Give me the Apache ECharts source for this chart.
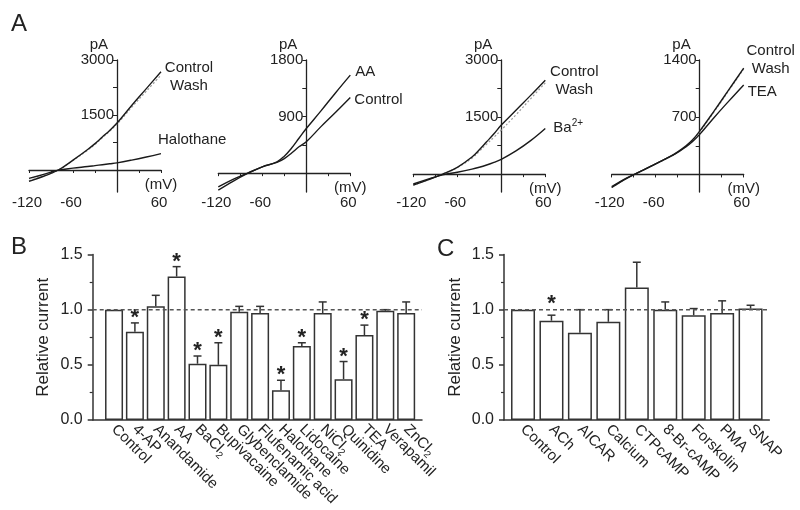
<!DOCTYPE html>
<html>
<head>
<meta charset="utf-8">
<script src="https://cdn.jsdelivr.net/npm/echarts@6/dist/echarts.min.js"></script>
<style>
html, body { margin: 0; padding: 0; background: #fff; }
#container { width: 800px; height: 510px; }
</style>
</head>
<body>
<div id="container"></div>
<script>
var FONT = '"Liberation Sans", Arial, sans-serif';
var INK = '#222';

// Panel A: I-V traces (mV -> pA)
var voltages = [-120, -100, -80, -60, -40, -30, -20, -10, 0, 20, 40, 60];

var halControl = [-310, -170, 0, 270, 560, 720, 900, 1080, 1280, 1760, 2220, 2680];
var halWash    = [-290, -160, 0, 260, 540, 700, 880, 1060, 1250, 1710, 2150, 2590];
var halothane  = [-230, -120, -5, 50, 95, 120, 145, 170, 195, 270, 355, 448];

var aaControl  = [-220, -100, 0, 100, 170, 230, 320, 420, 500, 740, 970, 1205];
var aaTrace    = [-270, -130, -5, 100, 180, 270, 400, 555, 710, 990, 1280, 1560];

var baControl  = [-290, -150, 0, 180, 450, 640, 850, 1060, 1290, 1680, 2070, 2470];
var baWash     = [-290, -150, 0, 170, 420, 600, 790, 970, 1160, 1560, 1980, 2400];
var baTrace    = [-260, -130, -20, 50, 130, 180, 240, 310, 390, 610, 880, 1200];

var teaControl = [-160, -50, 40, 130, 220, 275, 340, 420, 530, 780, 1040, 1300];
var teaWash    = [-160, -50, 40, 130, 215, 270, 335, 410, 520, 770, 1030, 1290];
var teaTrace   = [-150, -45, 40, 130, 220, 270, 330, 400, 490, 700, 900, 1095];

// Panel B
var bNames = ['Control', '4-AP', 'Anandamide', 'AA', 'BaCl{s|2}', 'Bupivacaine', 'Glybenclamide',
  'Flufenamic acid', 'Halothane', 'Lidocaine', 'NiCl{s|2}', 'Quinidine', 'TEA', 'Verapamil', 'ZnCl{s|2}'];
var bMeans = [1.00, 0.80, 1.03, 1.30, 0.51, 0.50, 0.98, 0.97, 0.27, 0.67, 0.97, 0.37, 0.77, 0.99, 0.97];
var bErrs  = [0, 0.08, 0.10, 0.09, 0.07, 0.20, 0.05, 0.06, 0.09, 0.03, 0.10, 0.16, 0.09, 0.01, 0.10];
var bSig   = [0, 1, 0, 1, 1, 1, 0, 0, 1, 1, 0, 1, 1, 0, 0];

// Panel C
var cNames = ['Control', 'ACh', 'AICAR', 'Calcium', 'CTPcAMP', '8-Br-cAMP', 'Forskolin', 'PMA', 'SNAP'];
var cMeans = [1.00, 0.90, 0.79, 0.89, 1.20, 1.00, 0.95, 0.97, 1.01];
var cErrs  = [0, 0.05, 0.21, 0.11, 0.23, 0.07, 0.06, 0.11, 0.03];
var cSig   = [0, 1, 0, 0, 0, 0, 0, 0, 0];

function pairs(arr) {
    return voltages.map(function (v, i) { return [v, arr[i]]; });
}

var aPlots = [
    { left: 29, min: -600, max: 3000, ticks: [750, 1500, 2250, 3000], labels: [1500, 3000],
      traces: [
        { data: halWash, dotted: true },
        { data: halothane, label: 'Halothane', align: 'left', offset: [-3, -14] },
        { data: halControl, label: 'Control\nWash', align: 'center', offset: [28, 5] }
      ] },
    { left: 218.3, min: -300, max: 1800, ticks: [450, 900, 1350, 1800], labels: [900, 1800],
      traces: [
        { data: aaControl, label: 'Control', align: 'left', offset: [4, 2] },
        { data: aaTrace, label: 'AA', align: 'left', offset: [5, -3] }
      ] },
    { left: 413.3, min: -470, max: 3000, ticks: [750, 1500, 2250, 3000], labels: [1500, 3000],
      traces: [
        { data: baWash, dotted: true },
        { data: baTrace, label: 'Ba{p|2+}', align: 'left', offset: [8, -1] },
        { data: baControl, label: 'Control\nWash', align: 'center', offset: [29, 1] }
      ] },
    { left: 611.7, min: -215, max: 1400, ticks: [350, 700, 1050, 1400], labels: [700, 1400],
      traces: [
        { data: teaWash, dotted: true },
        { data: teaTrace, label: 'TEA', align: 'left', offset: [4, 7] },
        { data: teaControl, label: 'Control\nWash', align: 'center', offset: [27, -8] }
      ] }
];

var grids = [], xAxes = [], yAxes = [], series = [];

aPlots.forEach(function (p, k) {
    grids.push({ left: p.left, top: 60, width: 132, height: 132, outerBoundsMode: 'none' });
    xAxes.push({
        type: 'value', gridIndex: k, min: -120, max: 60, position: 'bottom',
        axisLine: { onZero: true, lineStyle: { color: INK, width: 1.3 } },
        axisTick: { show: true, length: 3, customValues: [-120, -90, -60, -30, 30, 60], lineStyle: { color: INK } },
        axisLabel: { show: false },
        splitLine: { show: false },
        name: '(mV)', nameLocation: 'end', nameGap: 0,
        nameTextStyle: { fontFamily: FONT, fontSize: 15, color: INK, align: 'center', verticalAlign: 'top', padding: [7, 0, 0, 0] }
    });
    xAxes.push({
        type: 'value', gridIndex: k, min: -120, max: 60, position: 'bottom',
        axisLine: { show: false, onZero: false },
        axisTick: { show: false },
        axisLabel: { customValues: [-120, -60, 60], margin: 3, fontFamily: FONT, fontSize: 15, color: INK, padding: [0, 4, 0, 0] },
        splitLine: { show: false }
    });
    // y axis sits at 0 mV: 120 of the 180 mV span inside the 132 px grid
    yAxes.push({
        type: 'value', gridIndex: k, min: p.min, max: p.max, position: 'left', offset: -88,
        axisLine: { show: true, onZero: false, lineStyle: { color: INK, width: 1.3 } },
        axisTick: { show: true, length: 4, customValues: p.ticks, lineStyle: { color: INK } },
        axisLabel: { customValues: p.labels, margin: 3, fontFamily: FONT, fontSize: 15, color: INK,
            formatter: function (v) { return String(v); } },
        splitLine: { show: false },
        name: 'pA', nameLocation: 'end', nameGap: 6,
        nameTextStyle: { fontFamily: FONT, fontSize: 15, color: INK, align: 'right', padding: [0, 9, 0, 0] }
    });
    p.traces.forEach(function (t) {
        var s = {
            type: 'line', xAxisIndex: 2 * k, yAxisIndex: k,
            data: pairs(t.data), smooth: 0.4, showSymbol: false, silent: true,
            lineStyle: t.dotted ? { color: '#9a9a9a', width: 1.2, type: [2, 2] } : { color: '#1a1a1a', width: 1.4 }
        };
        if (t.label) {
            s.endLabel = {
                show: true, formatter: t.label, distance: 0, offset: t.offset, align: t.align,
                verticalAlign: 'middle', fontFamily: FONT, fontSize: 15, color: INK, lineHeight: 18,
                rich: { p: { fontFamily: FONT, fontSize: 10, color: INK, padding: [0, 0, 9, 0] } }
            };
        }
        series.push(s);
    });
});

function errorRenderer(capHalf, starGap) {
    return function (params, api) {
        var idx = api.value(0), mean = api.value(1), top = api.value(2), sig = api.value(3);
        var p0 = api.coord([idx, mean]);
        var p1 = api.coord([idx, top]);
        var st = { stroke: '#333', lineWidth: 1.5 };
        var children = [];
        if (top > mean) {
            children.push({ type: 'line', shape: { x1: p0[0], y1: p0[1], x2: p1[0], y2: p1[1] }, style: st });
            children.push({ type: 'line', shape: { x1: p1[0] - capHalf, y1: p1[1], x2: p1[0] + capHalf, y2: p1[1] }, style: st });
        }
        if (sig) {
            children.push({ type: 'text', x: p1[0], y: p1[1] - starGap,
                style: { text: '*', fill: INK, font: 'bold 22px ' + FONT, align: 'center', verticalAlign: 'middle' } });
        }
        return { type: 'group', children: children };
    };
}

function barPanel(opt) {
    var g = grids.length;
    grids.push({ left: opt.frameLeft, top: 254.5, width: opt.frameWidth, height: 165.5, outerBoundsMode: 'none' });
    grids.push({ left: opt.barLeft, top: 254.5, width: opt.barWidth, height: 165.5, outerBoundsMode: 'none' });
    var fx = xAxes.length, fy = yAxes.length;
    xAxes.push({
        type: 'value', gridIndex: g, min: 0, max: 1,
        axisLine: { lineStyle: { color: '#333', width: 1.5 } },
        axisTick: { show: false }, axisLabel: { show: false }, splitLine: { show: false }
    });
    xAxes.push({
        type: 'category', gridIndex: g + 1, data: opt.names,
        axisLine: { show: false }, axisTick: { show: false },
        axisLabel: {
            interval: 0, rotate: -45, margin: 7, fontFamily: FONT, fontSize: 15, color: INK,
            rich: { s: { fontFamily: FONT, fontSize: 10, color: INK, padding: [10, 0, 0, 0] } }
        }
    });
    yAxes.push({
        type: 'value', gridIndex: g, min: 0, max: 1.5, interval: 0.5,
        axisLine: { show: true, lineStyle: { color: '#333', width: 1.5 } },
        axisTick: { show: true, length: 5, lineStyle: { color: '#333', width: 1.5 } },
        minorTick: { show: true, splitNumber: 2, length: 3, lineStyle: { color: '#333', width: 1.2 } },
        axisLabel: { margin: 10, fontFamily: FONT, fontSize: 16, color: INK, formatter: function (v) { return v.toFixed(1); } },
        splitLine: { show: false },
        name: 'Relative current', nameLocation: 'middle', nameGap: opt.nameGap,
        nameTextStyle: { fontFamily: FONT, fontSize: 17, color: INK }
    });
    yAxes.push({ type: 'value', gridIndex: g + 1, min: 0, max: 1.5, show: false });

    series.push({
        type: 'bar', xAxisIndex: fx + 1, yAxisIndex: fy + 1, data: opt.means,
        barWidth: opt.bar, silent: true,
        itemStyle: { color: '#fff', borderColor: '#333', borderWidth: 1.5 }
    });
    series.push({
        type: 'custom', xAxisIndex: fx + 1, yAxisIndex: fy + 1, silent: true, z: 4,
        renderItem: errorRenderer(4, opt.starGap),
        encode: { x: 0, y: [1, 2] },
        data: opt.means.map(function (m, i) { return [i, m, m + opt.errs[i], opt.sig[i]]; })
    });
    series.push({
        type: 'line', xAxisIndex: fx, yAxisIndex: fy, data: [[0, 1], [1, 1]],
        showSymbol: false, silent: true, z: 5,
        lineStyle: { color: '#555', width: 1.5, type: [4, 3] }
    });
}

barPanel({ frameLeft: 92.7, frameWidth: 329.3, barLeft: 103.6, barWidth: 313, bar: 18, nameGap: 41,
    names: bNames, means: bMeans, errs: bErrs, sig: bSig, starGap: 5 });
barPanel({ frameLeft: 504, frameWidth: 265.3, barLeft: 508.8, barWidth: 256, bar: 24, nameGap: 40,
    names: cNames, means: cMeans, errs: cErrs, sig: cSig, starGap: 11 });

var dom = document.getElementById('container');
var myChart = echarts.init(dom, null, { renderer: 'canvas' });

myChart.setOption({
    animation: false,
    backgroundColor: '#fff',
    title: [
        { text: 'A', left: 6, top: 7, textStyle: { fontFamily: FONT, fontSize: 24, fontWeight: 'normal', color: INK } },
        { text: 'B', left: 6, top: 230, textStyle: { fontFamily: FONT, fontSize: 24, fontWeight: 'normal', color: INK } },
        { text: 'C', left: 432, top: 232, textStyle: { fontFamily: FONT, fontSize: 24, fontWeight: 'normal', color: INK } }
    ],
    grid: grids,
    xAxis: xAxes,
    yAxis: yAxes,
    series: series
});

window.addEventListener('resize', function () {
    myChart.resize();
});
</script>
</body>
</html>
